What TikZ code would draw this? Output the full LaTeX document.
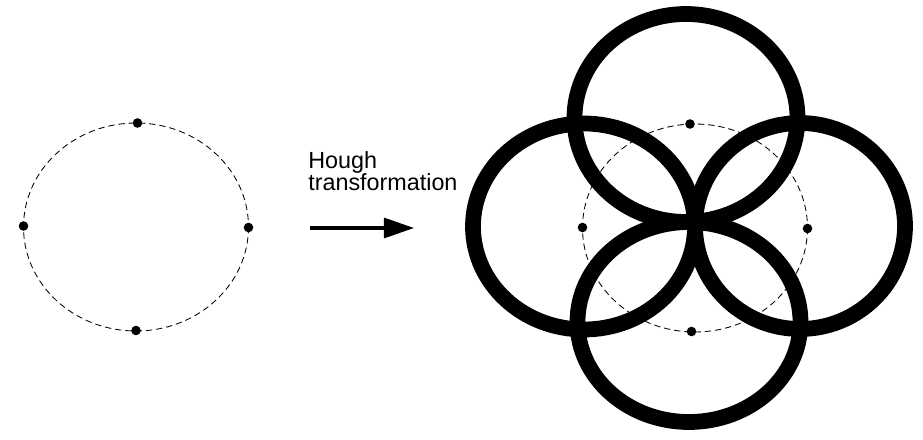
\documentclass[tikz,border=0pt]{standalone}
\usepackage{fontspec}
\setmainfont{Liberation Sans}
\usetikzlibrary{arrows.meta,positioning}

\begin{document}
\begin{tikzpicture}[
        x=0.025cm, y=-0.025cm,
        point/.style={circle, fill=black, inner sep=0pt, minimum size=0.24cm},
        guide/.style={draw=black, line width=0.6pt, dash pattern=on 4.5pt off 2.8pt},
        vote/.style={draw=black, line width=11.2pt},
        caption/.style={align=left, inner sep=0pt, font=\fontsize{16.6}{15.8}\selectfont},
        arrow/.style={-{Triangle[length=0.75cm, width=0.5cm]}, line width=2.2pt}
    ]
        \useasboundingbox (0,0) rectangle (923,440);

        % Input circle
        \coordinate (left) at (136,227);
        \draw[guide] (left) ellipse [x radius=112.5, y radius=104];
        \node[point] (a1) at (137.5,123) {};
        \node[point] (a2) at (23.5,226) {};
        \node[point] (a3) at (248.5,227.5) {};
        \node[point] (a4) at (136,330.5) {};

        % Label and arrow
        \node[caption, anchor=north west] (hough) at (308,151) {Hough\\transformation};
        \coordinate (tail) at (310,228);
        \coordinate (head) at (414,228);
        \draw[arrow] (tail) -- (head);

        % Parameter space
        \coordinate (right) at (695,228);
        \draw[guide] (right) ellipse [x radius=112.5, y radius=104];
        \node[point] (b1) at (690,124) {};
        \node[point] (b2) at (582.5,227.5) {};
        \node[point] (b3) at (807.5,228.5) {};
        \node[point] (b4) at (691.5,331.5) {};

        % Accumulated circles
        \draw[vote] (686,118) ellipse [x radius=111.5, y radius=104];
        \draw[vote] (584,226.5) ellipse [x radius=111, y radius=103];
        \draw[vote] (800,226) ellipse [x radius=105, y radius=103];
        \draw[vote] (689,322) ellipse [x radius=111.5, y radius=100];

    \end{tikzpicture}
\end{document}
